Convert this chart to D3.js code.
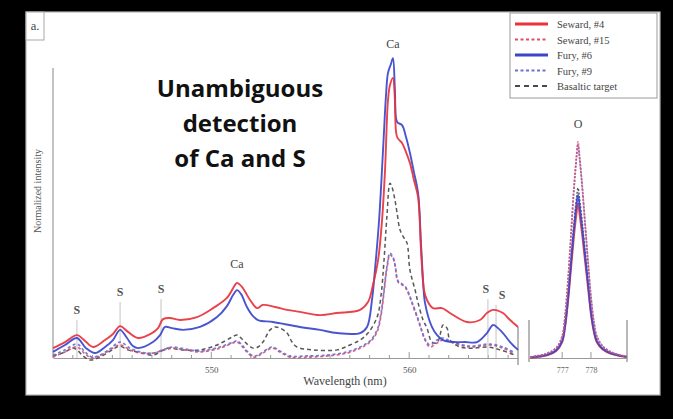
<!DOCTYPE html>
<html>
<head>
<meta charset="utf-8">
<script src="https://cdn.jsdelivr.net/npm/d3@7/dist/d3.min.js"></script>
<style>
  html, body { margin: 0; padding: 0; background: #000; }
  svg { display: block; font-family: "Liberation Serif", "Times New Roman", serif; }
</style>
</head>
<body>
<svg id="chart" width="673" height="419"></svg>
<script>
// ---- Ca / S window (542–565.5 nm) ----
const seward4Wl = [542.00,542.61,543.21,543.62,544.02,544.63,545.03,545.39,545.79,546.30,547.00,547.31,547.56,547.91,548.42,549.28,550.09,550.79,551.20,551.30,551.55,551.96,552.31,552.61,553.22,553.83,554.48,555.49,556.35,557.52,557.92,558.17,558.43,558.63,558.78,558.93,559.03,559.18,559.28,559.39,559.64,559.84,560.04,560.24,560.45,560.60,560.75,560.90,561.20,561.66,562.06,562.92,563.58,563.93,564.24,564.74,565.10,565.50];
const seward4 = [0.034,0.055,0.079,0.059,0.038,0.062,0.083,0.110,0.090,0.069,0.086,0.103,0.134,0.138,0.131,0.141,0.172,0.207,0.252,0.259,0.245,0.200,0.172,0.183,0.176,0.166,0.159,0.148,0.155,0.166,0.193,0.252,0.338,0.476,0.648,0.890,0.941,0.966,0.890,0.762,0.741,0.710,0.672,0.614,0.555,0.372,0.234,0.200,0.172,0.172,0.155,0.124,0.131,0.155,0.166,0.155,0.131,0.107];

const fury6Wl = [542.00,542.61,543.21,543.67,544.12,544.63,545.03,545.39,545.74,546.04,546.30,547.05,547.41,547.66,548.01,548.57,549.43,550.29,550.79,551.10,551.30,551.50,551.80,552.06,552.36,553.12,554.48,555.49,556.35,557.52,557.87,558.12,558.27,558.48,558.68,558.83,558.93,559.08,559.18,559.28,559.39,559.64,559.84,560.04,560.24,560.45,560.60,560.70,560.80,561.15,561.41,561.71,562.22,562.82,563.43,563.93,564.24,564.49,564.74,565.10,565.50];
const fury6 = [0.021,0.045,0.069,0.034,0.017,0.038,0.062,0.097,0.069,0.041,0.034,0.055,0.079,0.107,0.103,0.097,0.107,0.141,0.179,0.217,0.234,0.221,0.176,0.148,0.131,0.124,0.107,0.097,0.086,0.086,0.107,0.200,0.303,0.476,0.717,0.907,0.983,1.014,1.034,0.924,0.814,0.803,0.762,0.707,0.641,0.569,0.390,0.269,0.190,0.107,0.079,0.062,0.055,0.055,0.055,0.086,0.114,0.103,0.086,0.055,0.028];

const basaltWl = [542.00,542.61,542.96,543.21,543.52,543.87,544.27,544.73,545.13,545.39,545.79,546.25,546.65,547.05,547.41,547.76,548.57,549.43,550.29,551.05,551.30,551.50,551.70,552.11,552.36,552.61,552.97,553.22,553.47,553.83,554.08,554.33,555.14,556.35,557.01,557.52,557.92,558.38,558.58,558.73,558.88,559.03,559.13,559.28,559.39,559.54,559.74,559.89,560.04,560.30,560.45,560.70,560.90,561.15,561.41,561.56,561.71,561.91,562.06,562.57,563.23,563.98,564.59,565.35];
const basalt = [0.007,0.021,0.034,0.028,0.007,-0.007,0.000,0.017,0.034,0.041,0.028,0.021,0.014,0.010,0.021,0.034,0.028,0.028,0.045,0.072,0.079,0.069,0.055,0.034,0.038,0.055,0.097,0.107,0.103,0.086,0.055,0.038,0.028,0.028,0.045,0.062,0.086,0.141,0.217,0.338,0.493,0.603,0.590,0.545,0.500,0.441,0.414,0.397,0.303,0.234,0.190,0.131,0.103,0.055,0.052,0.079,0.114,0.103,0.062,0.038,0.034,0.038,0.028,0.010];

const dashedWl = [542.00,542.61,543.21,543.62,543.97,544.38,544.88,545.39,545.89,546.40,547.05,547.66,548.06,548.67,549.43,550.44,551.10,551.30,551.55,551.80,552.11,552.36,552.61,553.07,553.47,553.98,554.84,555.85,556.86,557.52,558.02,558.38,558.58,558.73,558.88,559.03,559.18,559.28,559.44,559.64,559.79,559.99,560.14,560.45,560.65,560.80,561.05,561.41,561.71,562.06,563.07,564.08,564.74,565.25];
const seward15 = [0.003,0.021,0.038,0.014,0.000,0.007,0.028,0.045,0.028,0.017,0.017,0.028,0.034,0.028,0.021,0.034,0.052,0.055,0.041,0.021,0.003,0.007,0.017,0.034,0.021,0.003,0.003,0.007,0.017,0.034,0.055,0.090,0.148,0.228,0.310,0.355,0.345,0.321,0.262,0.252,0.245,0.217,0.190,0.131,0.090,0.062,0.038,0.052,0.062,0.055,0.038,0.045,0.034,0.017];
const fury9 = [0.010,0.028,0.048,0.021,0.003,0.010,0.031,0.055,0.034,0.021,0.017,0.031,0.038,0.031,0.024,0.038,0.055,0.059,0.045,0.024,0.007,0.010,0.021,0.038,0.024,0.007,0.007,0.010,0.021,0.038,0.059,0.097,0.155,0.235,0.317,0.362,0.348,0.324,0.266,0.255,0.248,0.221,0.193,0.134,0.093,0.066,0.045,0.062,0.069,0.059,0.041,0.048,0.038,0.021];

// ---- O triplet window (775.85–779.25 nm) ----
const oWl = [775.9,776.2,776.5,776.8,777.0,777.1,777.2,777.3,777.4,777.5,777.55,777.6,777.7,777.8,777.9,778.0,778.1,778.2,778.4,778.7,779.0,779.25];
const oSeward4 = [0.000,0.004,0.010,0.025,0.055,0.105,0.190,0.300,0.410,0.500,0.534,0.500,0.420,0.330,0.240,0.150,0.090,0.055,0.030,0.014,0.007,0.003];
const oSeward15 = [0.003,0.008,0.016,0.035,0.075,0.145,0.265,0.415,0.575,0.700,0.745,0.700,0.590,0.460,0.330,0.210,0.125,0.075,0.040,0.020,0.010,0.004];
const oFury6 = [0.002,0.006,0.012,0.027,0.058,0.112,0.202,0.318,0.435,0.530,0.562,0.530,0.445,0.350,0.255,0.160,0.096,0.058,0.032,0.016,0.008,0.004];
const oFury9 = [0.004,0.009,0.017,0.036,0.074,0.142,0.260,0.410,0.568,0.690,0.735,0.692,0.583,0.455,0.328,0.210,0.126,0.076,0.042,0.021,0.011,0.005];
const oBasalt = [0.003,0.007,0.014,0.030,0.062,0.118,0.212,0.332,0.452,0.552,0.586,0.553,0.465,0.365,0.265,0.168,0.100,0.060,0.034,0.017,0.009,0.004];

// ---- annotations ----
const sulfurWl = [543.21, 545.39, 547.46, 563.98, 564.39];
const sulfurTop = [0.138, 0.200, 0.210, 0.210, 0.190];
const caWl = [551.30, 559.18];
const caLabel = ["Ca", "Ca"];
const mainTicks = [550, 560];
const oTicks = [777, 778];
const legendNames = ["Seward, #4", "Seward, #15", "Fury, #6", "Fury, #9", "Basaltic target"];
const headline = ["Unambiguous", "detection", "of Ca and S"];

const colors = {
  seward4: "#e8323c", seward15: "#d9506e", fury6: "#3a46cc", fury9: "#6a72d4", basalt: "#4a4a4a"
};
const styles = [
  { key: "seward4", color: colors.seward4, dash: null, width: 1.9 },
  { key: "seward15", color: colors.seward15, dash: "3,2.5", width: 1.7 },
  { key: "fury6", color: colors.fury6, dash: null, width: 1.9 },
  { key: "fury9", color: colors.fury9, dash: "3,2.5", width: 1.7 },
  { key: "basalt", color: colors.basalt, dash: "4,3", width: 1.5 }
];

const svg = d3.select("#chart");
svg.append("rect").attr("width", 673).attr("height", 419).attr("fill", "#000");
svg.append("rect").attr("x", 26).attr("y", 12).attr("width", 634).attr("height", 383)
  .attr("fill", "#fff").attr("stroke", "#b5b5b5").attr("stroke-width", 1.2);

// panel tag
svg.append("rect").attr("x", 26).attr("y", 12).attr("width", 18).attr("height", 28)
  .attr("fill", "#fff").attr("stroke", "#a8a8a8");
svg.append("text").attr("x", 35).attr("y", 30).attr("text-anchor", "middle")
  .attr("font-size", 12.5).attr("fill", "#444").text("a.");

const x = d3.scaleLinear().domain([542, 565.5]).range([53, 518]);
const y = d3.scaleLinear().domain([0, 1]).range([358, 68]);
const xo = d3.scaleLinear().domain([775.85, 779.25]).range([529, 627]);

const axisColor = "#9a9a9a";
const serif = "Liberation Serif";

// main axes
svg.append("line").attr("x1", 53).attr("x2", 53).attr("y1", y(1)).attr("y2", y(0))
  .attr("stroke", axisColor).attr("stroke-width", 1.2);
const xAxis = d3.axisBottom(x).tickValues(mainTicks).tickFormat(d3.format("d")).tickSize(0).tickPadding(9);
const gx = svg.append("g").attr("transform", `translate(0,${y(0)})`).call(xAxis);
gx.select(".domain").attr("stroke", axisColor).attr("stroke-width", 1.2);
gx.selectAll("text").style("font-family", serif).attr("font-size", 9).attr("fill", "#555");
// minor ticks pointing up, every nm
const minor = d3.range(543, 566);
svg.append("g").selectAll("line").data(minor).join("line")
  .attr("x1", d => x(d)).attr("x2", d => x(d))
  .attr("y1", y(0)).attr("y2", d => y(0) - (mainTicks.includes(d) ? 6 : 3))
  .attr("stroke", axisColor).attr("stroke-width", 1);
svg.append("line").attr("x1", x(565.5)).attr("x2", x(565.5)).attr("y1", y(0) - 31).attr("y2", y(0) + 7)
  .attr("stroke", axisColor).attr("stroke-width", 1.4);

svg.append("text").attr("x", 345).attr("y", 385).attr("text-anchor", "middle")
  .attr("font-size", 12).attr("fill", "#444").text("Wavelength (nm)");
svg.append("text").attr("transform", "translate(41,191) rotate(-90)").attr("text-anchor", "middle")
  .attr("font-size", 10).attr("fill", "#555").text("Normalized intensity");

// O panel axes
const oAxis = d3.axisBottom(xo).tickValues(oTicks).tickFormat(d3.format("d")).tickSize(0).tickPadding(9);
const go = svg.append("g").attr("transform", `translate(0,${y(0)})`).call(oAxis);
go.select(".domain").attr("stroke", axisColor).attr("stroke-width", 1.2);
go.selectAll("text").style("font-family", serif).attr("font-size", 8).attr("fill", "#666");
svg.append("g").selectAll("line").data(oTicks).join("line")
  .attr("x1", d => xo(d)).attr("x2", d => xo(d)).attr("y1", y(0)).attr("y2", y(0) - 6)
  .attr("stroke", axisColor);
[775.85, 779.25].forEach(w => {
  svg.append("line").attr("x1", xo(w)).attr("x2", xo(w)).attr("y1", y(0) - 38).attr("y2", y(0) + 4)
    .attr("stroke", axisColor).attr("stroke-width", 1.4);
});

// sulfur markers
svg.append("g").selectAll("line").data(sulfurWl).join("line")
  .attr("x1", d => x(d)).attr("x2", d => x(d))
  .attr("y1", (d, i) => y(sulfurTop[i]) + 2).attr("y2", y(0))
  .attr("stroke", "#c4c4c4").attr("stroke-width", 1);
const sOffset = [0, 0, 0, -2, 6];
svg.append("g").selectAll("text").data(sulfurWl).join("text")
  .attr("x", (d, i) => x(d) + sOffset[i]).attr("y", (d, i) => y(sulfurTop[i]) - 4)
  .attr("text-anchor", "middle").attr("font-size", 12).attr("font-weight", "bold").attr("fill", "#555").text("S");

// calcium and oxygen labels
svg.append("text").attr("x", x(caWl[0])).attr("y", 268).attr("text-anchor", "middle")
  .attr("font-size", 12).attr("fill", "#444").text(caLabel[0]);
svg.append("text").attr("x", x(caWl[1])).attr("y", 48).attr("text-anchor", "middle")
  .attr("font-size", 12).attr("fill", "#444").text(caLabel[1]);
svg.append("text").attr("x", xo(777.55)).attr("y", 128).attr("text-anchor", "middle")
  .attr("font-size", 12).attr("fill", "#444").text("O");

// spectra
const mainSeries = {
  basalt: [basaltWl, basalt], seward15: [dashedWl, seward15], fury9: [dashedWl, fury9],
  fury6: [fury6Wl, fury6], seward4: [seward4Wl, seward4]
};
const oSeries = { basalt: oBasalt, seward4: oSeward4, fury6: oFury6, fury9: oFury9, seward15: oSeward15 };
const drawOrder = ["basalt", "seward15", "fury9", "fury6", "seward4"];
const line = d3.line().curve(d3.curveCatmullRom.alpha(0.5));

drawOrder.forEach(k => {
  const st = styles.find(s => s.key === k);
  const [wl, vals] = mainSeries[k];
  svg.append("path")
    .attr("d", line(wl.map((w, i) => [x(w), y(vals[i])])))
    .attr("fill", "none").attr("stroke", st.color).attr("stroke-width", st.width)
    .attr("stroke-dasharray", st.dash).attr("stroke-linejoin", "round").attr("opacity", 0.92);
});
["basalt", "seward4", "fury6", "fury9", "seward15"].forEach(k => {
  const st = styles.find(s => s.key === k);
  const vals = oSeries[k];
  svg.append("path")
    .attr("d", line(oWl.map((w, i) => [xo(w), y(vals[i])])))
    .attr("fill", "none").attr("stroke", st.color).attr("stroke-width", st.width)
    .attr("stroke-dasharray", st.dash === null ? null : "2,1.5").attr("stroke-linejoin", "round").attr("opacity", 0.9);
});

// headline
const hl = svg.append("text").attr("text-anchor", "middle")
  .style("font-family", "'Open Sans', sans-serif").attr("font-weight", "bold").attr("font-size", 24).attr("fill", "#111");
headline.forEach((t, i) => {
  hl.append("tspan").attr("x", 240).attr("y", 97 + i * 35).text(t);
});

// legend
const lg = svg.append("g");
lg.append("rect").attr("x", 510).attr("y", 13).attr("width", 147).attr("height", 85)
  .attr("fill", "#fff").attr("stroke", "#9a9a9a").attr("stroke-width", 1);
styles.forEach((s, i) => {
  const yy = 24 + i * 15.5;
  lg.append("line").attr("x1", 515).attr("x2", 548).attr("y1", yy).attr("y2", yy)
    .attr("stroke", s.color).attr("stroke-width", s.dash ? 1.8 : 3)
    .attr("stroke-dasharray", s.key === "basalt" ? "5,4" : s.dash);
  lg.append("text").attr("x", 557).attr("y", yy + 4).attr("font-size", 10.5).attr("fill", "#444").text(legendNames[i]);
});
</script>
</body>
</html>
